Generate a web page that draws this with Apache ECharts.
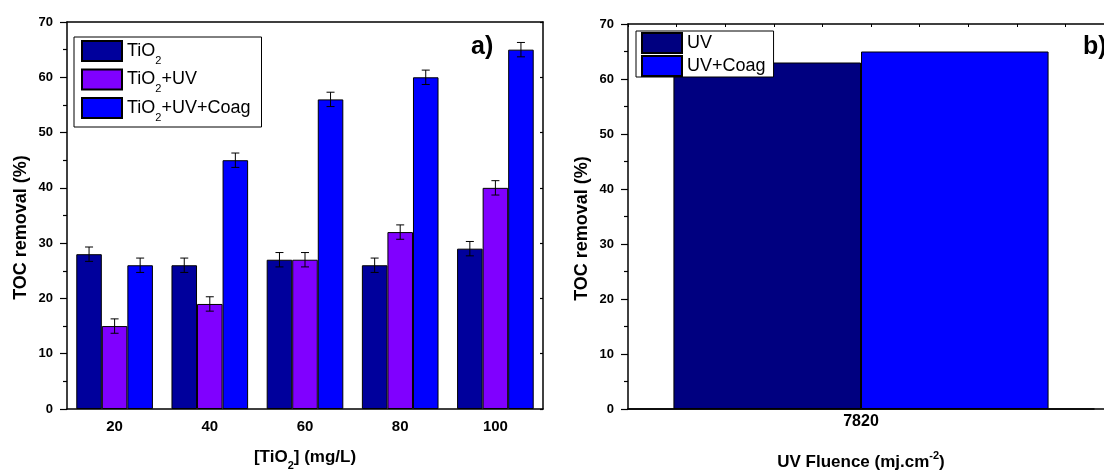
<!DOCTYPE html>
<html><head><meta charset="utf-8">
<script src="https://cdn.jsdelivr.net/npm/echarts@6/dist/echarts.min.js"></script>
<style>html,body{margin:0;padding:0;background:#fff}#c{width:1104px;height:472px}</style>
</head><body><div id="c"></div>
<script>
// ---- data ----
const categories = ['20', '40', '60', '80', '100'];
const tio2 = [28, 26, 27, 26, 29];
const tio2Uv = [15, 19, 27, 32, 40];
const tio2UvCoag = [26, 45, 56, 60, 65];
const errTio2 = [1.3, 1.3, 1.3, 1.3, 1.3];
const errTio2Uv = [1.3, 1.3, 1.3, 1.3, 1.3];
const errTio2UvCoag = [1.3, 1.3, 1.3, 1.3, 1.3];
const fluenceCats = ['7820'];
const uv = [63];
const uvCoag = [65];
const yTickMin = 0, yTickMax = 70, yTickStep = 10;

// ---- style ----
const FONT = '"Liberation Sans", Arial, sans-serif';
const GAP = 0.195;
const AX = { onZero: false, lineStyle: { color: '#000', width: 1.5 } };

function errSeries(name, vals, errs, k, n) {
  return {
    type: 'custom', name: name, xAxisIndex: 0, yAxisIndex: 0, z: 10, silent: true,
    data: vals.map((v, i) => [i, v, errs[i]]),
    renderItem(params, api) {
      const i = api.value(0), v = api.value(1), e = api.value(2);
      const band = api.size([1, 0])[0];
      const bw = band * (1 - GAP) / n;
      const cx = api.coord([i, v])[0] + (k - (n - 1) / 2) * bw;
      const yt = api.coord([i, v + e])[1], yb = api.coord([i, v - e])[1];
      const h = 4;
      const st = { stroke: '#000', lineWidth: 1 };
      return { type: 'group', children: [
        { type: 'line', shape: { x1: cx, y1: yt, x2: cx, y2: yb }, style: st },
        { type: 'line', shape: { x1: cx - h, y1: yt, x2: cx + h, y2: yt }, style: st },
        { type: 'line', shape: { x1: cx - h, y1: yb, x2: cx + h, y2: yb }, style: st }
      ] };
    }
  };
}
function bar(name, data, color, xi, yi) {
  return { type: 'bar', name: name, data: data, xAxisIndex: xi, yAxisIndex: yi,
    barGap: '0%', barCategoryGap: (GAP * 100) + '%',
    itemStyle: { color: color, borderColor: '#000', borderWidth: 1 } };
}
const subRich = {
  sub: { fontSize: 11, lineHeight: 11, verticalAlign: 'bottom', padding: [0, 0, -5, 0], fontFamily: FONT, color: '#000' }
};
const subRichBold = {
  sub: { fontSize: 11, lineHeight: 11, verticalAlign: 'bottom', padding: [0, 0, -5, 0], fontFamily: FONT, fontWeight: 'bold', color: '#000' },
  sup: { fontSize: 11, lineHeight: 11, verticalAlign: 'top', padding: [-4, 0, 0, 0], fontFamily: FONT, fontWeight: 'bold', color: '#000' }
};
function valueY(gridIndex, withLabels, position, name) {
  return {
    type: 'value', gridIndex: gridIndex, position: position,
    min: yTickMin, max: yTickMax, interval: yTickStep,
    axisLine: { show: true, onZero: false, lineStyle: { color: '#000', width: 1.5 } },
    axisTick: { show: true, inside: !withLabels, length: withLabels ? 7 : 3, lineStyle: { color: '#000', width: 1.2 } },
    minorTick: { show: withLabels, splitNumber: 2, length: 4, lineStyle: { color: '#000', width: 1.2 } },
    splitLine: { show: false },
    axisLabel: { show: withLabels, fontFamily: FONT, fontWeight: 'bold', fontSize: 13, color: '#000', margin: 14 },
    name: name || '', nameLocation: 'middle', nameGap: 37,
    nameTextStyle: { fontFamily: FONT, fontWeight: 'bold', fontSize: 18, color: '#000', padding: [0, 24, 0, 0] }
  };
}

const option = {
  animation: false,
  backgroundColor: '#fff',
  grid: [
    { left: 67, top: 22, width: 476, height: 387, containLabel: false, outerBoundsMode: 'none' },
    { left: 628, top: 24, width: 466, height: 385, containLabel: false, outerBoundsMode: 'none' },
    { left: 628, top: 24, width: 486, height: 385, containLabel: false, outerBoundsMode: 'none' }
  ],
  legend: [
    { data: ['TiO2', 'TiO2+UV', 'TiO2+UV+Coag'], orient: 'vertical', left: 74, top: 37,
      icon: 'rect', itemWidth: 40, itemHeight: 20, itemGap: 2.5, padding: [3, 11, 4, 7],
      borderColor: '#000', borderWidth: 1, backgroundColor: '#fff',
      formatter: n => n.replace('TiO2', 'TiO{sub|2}'),
      textStyle: { fontFamily: FONT, fontSize: 18, lineHeight: 20, color: '#000', rich: subRich } },
    { data: ['UV', 'UV+Coag'], orient: 'vertical', left: 636, top: 31,
      icon: 'rect', itemWidth: 40, itemHeight: 20, itemGap: 1, padding: [1, 8, 0, 5],
      borderColor: '#000', borderWidth: 1, backgroundColor: '#fff',
      textStyle: { fontFamily: FONT, fontSize: 18, lineHeight: 20, color: '#000' } }
  ],
  xAxis: [
    { type: 'category', gridIndex: 0, position: 'bottom', data: categories,
      axisLine: AX, axisTick: { alignWithLabel: true, length: 6, interval: 0, lineStyle: { color: '#000', width: 1.2 } },
      axisLabel: { fontFamily: FONT, fontWeight: 'bold', fontSize: 15, color: '#000', margin: 10, interval: 0 },
      name: '[TiO{sub|2}] (mg/L)', nameLocation: 'middle', nameGap: 40,
      nameTextStyle: { fontFamily: FONT, fontWeight: 'bold', fontSize: 17, color: '#000', rich: subRichBold } },
    { type: 'category', gridIndex: 0, position: 'bottom', data: categories,
      axisLine: { show: false, onZero: false }, axisLabel: { show: false },
      axisTick: { length: 3, interval: 0, lineStyle: { color: '#000', width: 1.2 } } },
    { type: 'category', gridIndex: 0, position: 'top', data: categories,
      axisLine: AX, axisLabel: { show: false },
      axisTick: { inside: true, length: 3, interval: 0, lineStyle: { color: '#000', width: 1 } } },
    { type: 'category', gridIndex: 0, position: 'top', data: categories,
      axisLine: { show: false, onZero: false }, axisLabel: { show: false },
      axisTick: { inside: true, alignWithLabel: true, length: 3, interval: 0, lineStyle: { color: '#000', width: 1 } } },
    { type: 'category', gridIndex: 1, position: 'bottom', data: fluenceCats,
      axisLine: AX, axisTick: { show: false },
      axisLabel: { fontFamily: FONT, fontWeight: 'bold', fontSize: 16, color: '#000', margin: 5 },
      name: 'UV Fluence (mj.cm{sup|-2})', nameLocation: 'middle', nameGap: 45,
      nameTextStyle: { fontFamily: FONT, fontWeight: 'bold', fontSize: 17, color: '#000', rich: subRichBold } },
    { type: 'value', gridIndex: 2, position: 'top', min: 0, max: 10, interval: 1,
      axisLine: AX, axisLabel: { show: false }, splitLine: { show: false },
      axisTick: { inside: true, length: 3, lineStyle: { color: '#000', width: 1 } } },
    { type: 'value', gridIndex: 2, position: 'bottom', min: 0, max: 10, interval: 1,
      axisLine: AX, axisLabel: { show: false }, splitLine: { show: false }, axisTick: { show: false } }
  ],
  yAxis: [
    valueY(0, true, 'left', 'TOC removal (%)'),
    valueY(0, false, 'right'),
    valueY(1, true, 'left', 'TOC removal (%)'),
    { type: 'value', gridIndex: 2, min: 0, max: 70, show: false }
  ],
  graphic: [
    { type: 'text', left: 471, top: 35, style: { text: 'a)', font: 'bold 25px ' + FONT, fill: '#000' } },
    { type: 'text', left: 1083, top: 35, style: { text: 'b)', font: 'bold 25px ' + FONT, fill: '#000' } }
  ],
  series: [
    bar('TiO2', tio2, '#00009C', 0, 0),
    bar('TiO2+UV', tio2Uv, '#8000FF', 0, 0),
    bar('TiO2+UV+Coag', tio2UvCoag, '#0000FF', 0, 0),
    errSeries('errA', tio2, errTio2, 0, 3),
    errSeries('errB', tio2Uv, errTio2Uv, 1, 3),
    errSeries('errC', tio2UvCoag, errTio2UvCoag, 2, 3),
    bar('UV', uv, '#000080', 4, 2),
    bar('UV+Coag', uvCoag, '#0000FF', 4, 2)
  ]
};
const chart = echarts.init(document.getElementById('c'), null, { renderer: 'canvas' });
chart.setOption(option);
</script>
</body></html>
